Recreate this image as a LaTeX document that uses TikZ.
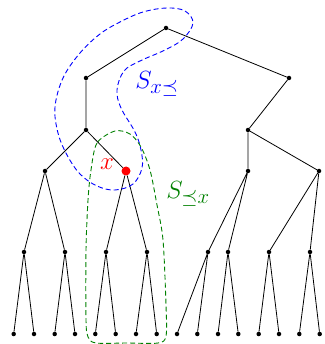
\documentclass[tikz,border=0pt]{standalone}
\begin{document}
\begin{tikzpicture}[x=1pt,y=-1pt,
  dot/.style={circle,fill=black,inner sep=0pt,minimum size=4.5pt},
  xdot/.style={circle,fill=red,inner sep=0pt,minimum size=9pt},
  edge/.style={line width=0.8pt},
  region/.style={line width=0.9pt,dash pattern=on 5pt off 3pt},
  lbl/.style={font=\Huge,inner sep=0pt}]
\useasboundingbox (0,0) rectangle (324,344);
% internal nodes
\node[dot] (r) at (166,28) {};
\node[dot] (a) at (86,78) {};
\node[dot] (b) at (289,78) {};
\node[dot] (c) at (86,130) {};
\node[dot] (e) at (248,130) {};
\node[dot] (d) at (45,171) {};
\node[xdot] (x) at (126,171) {};
\node[dot] (f) at (248,171) {};
\node[dot] (g) at (319,171) {};
\node[dot] (m1) at (24,252) {};
\node[dot] (m2) at (65,252) {};
\node[dot] (m3) at (106,252) {};
\node[dot] (m4) at (147,252) {};
\node[dot] (m5) at (208,252) {};
\node[dot] (m6) at (228,252) {};
\node[dot] (m7) at (269,252) {};
\node[dot] (m8) at (310,252) {};
% leaves
\foreach \i/\xx in {1/13.7,2/34,3/54.7,4/75,5/95.3,6/115.7,7/136,8/156.7,9/177,10/197.3,11/218,12/238.3,13/258.7,14/279,15/299.3,16/319.7}
  \node[dot] (l\i) at (\xx,334) {};
% edges
\draw[edge] (r)--(a) (r)--(b) (a)--(c) (c)--(d) (c)--(x)
  (d)--(m1) (d)--(m2) (x)--(m3) (x)--(m4)
  (b)--(e) (e)--(f) (e)--(g) (f)--(m5) (f)--(m6) (g)--(m7) (g)--(m8)
  (m1)--(l1) (m1)--(l2) (m2)--(l3) (m2)--(l4) (m3)--(l5) (m3)--(l6) (m4)--(l7) (m4)--(l8)
  (m5)--(l9) (m5)--(l10) (m6)--(l11) (m6)--(l12) (m7)--(l13) (m7)--(l14) (m8)--(l15) (m8)--(l16);
% blue region
\draw[region,blue] plot[smooth cycle,tension=0.6] coordinates {
  (167,8) (143,12) (120,22) (100,34) (80,53) (63,78) (55,107) (58,133) (67,155) (80,174) (97,186) (115,190)
  (133,184) (142,168) (141,150) (135,132) (121,108) (117,90) (124,71) (140,61) (165,50) (183,39) (193,23) (185,11)};
% green region
\draw[region,green!50!black] plot[smooth cycle,tension=0.5] coordinates {
  (115,131) (97,143) (91,170) (88,200) (86,250) (86,320) (88,337) (96,343) (127,343) (158,343) (166,336)
  (166,305) (163,240) (157,205) (150,170) (141,147) (130,134)};
% labels
\node[lbl,red] (xl) at (107,164) {$x$};
\node[lbl,blue] (sb) at (157,84) {$S_{x\preceq}$};
\node[lbl,green!50!black] (sg) at (188,194) {$S_{\preceq x}$};
\end{tikzpicture}
\end{document}
